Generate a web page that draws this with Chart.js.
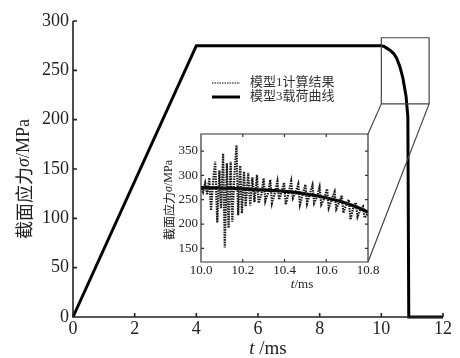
<!DOCTYPE html>
<html>
<head>
<meta charset="utf-8">
<script src="https://cdn.jsdelivr.net/npm/chart.js@4.4.0/dist/chart.umd.min.js"></script>
<style>
  html, body { margin: 0; padding: 0; background: #fff; }
  #wrap { position: relative; width: 460px; height: 358px; }
  #wrap canvas { position: absolute; left: 0; top: 0; }
</style>
</head>
<body>
<div id="wrap">
  <canvas id="mainChart" width="460" height="358"></canvas>
  <canvas id="insetChart" width="460" height="358"></canvas>
</div>
<script>
// model 3 load curve (t in ms, stress in MPa)
const loadT = [0, 4, 10.0, 10.1, 10.2, 10.3, 10.4, 10.5, 10.6, 10.7, 10.8, 10.86, 10.89, 12];
const loadV = [0, 275, 275, 274, 272, 270, 267, 262, 254, 242, 224, 203, 0, 0];

// model 1 computed result (inset only)
const model1T = [
  10.000, 10.010, 10.020, 10.030, 10.040, 10.048, 10.058, 10.068, 10.078, 10.088,
  10.096, 10.106, 10.114, 10.124, 10.132, 10.142, 10.150, 10.160, 10.170, 10.178,
  10.188, 10.196, 10.206, 10.214, 10.226, 10.236, 10.246, 10.256, 10.268, 10.276,
  10.290, 10.300, 10.308, 10.322, 10.332, 10.340, 10.354, 10.366, 10.374, 10.386,
  10.398, 10.406, 10.420, 10.432, 10.440, 10.452, 10.466, 10.474, 10.488, 10.500,
  10.508, 10.520, 10.534, 10.542, 10.556, 10.568, 10.576, 10.590, 10.604, 10.612,
  10.626, 10.640, 10.648, 10.662, 10.674, 10.682, 10.696, 10.708, 10.716, 10.730,
  10.742, 10.750, 10.764, 10.776, 10.784, 10.800
];
const model1V = [
  278, 266, 284, 260, 295, 228, 288, 328, 203, 310,
  232, 345, 152, 325, 192, 328, 205, 300, 362, 218,
  320, 222, 308, 236, 305, 238, 296, 245, 301, 243,
  262, 294, 247, 265, 291, 243, 264, 288, 250, 266,
  285, 240, 265, 288, 253, 264, 282, 240, 262, 281,
  242, 260, 280, 243, 256, 276, 240, 252, 272, 233,
  250, 266, 231, 245, 259, 223, 240, 250, 209, 235,
  244, 215, 230, 236, 213, 222
];

const mainXTicks = { min: 0, max: 12, step: 2 };
const mainYTicks = { min: 0, max: 300, step: 50 };
const insetXTicks = { min: 10.0, max: 10.8, step: 0.2 };
const insetYRange = [122, 385];
const insetYTicks = [150, 200, 250, 300, 350];
const zoomBoxT = [10.0, 11.55];
const zoomBoxV = [216, 283];

const seriesNames = ["模型1计算结果", "模型3载荷曲线"];
const yTitle = ["截面应力", "σ", "/MPa"];
const xTitleMain = ["t", " /ms"];
const xTitleInset = ["t", "/ms"];

const SERIF = '"Liberation Serif", "DejaVu Serif", serif';
const CJK = '"Noto Sans CJK SC", sans-serif';
const INK = "#222";

const pts = (xs, ys) => xs.map((x, i) => ({ x, y: ys[i] }));

function drawRich(ctx, parts, cx, cy, rot) {
  ctx.save();
  ctx.translate(cx, cy);
  ctx.rotate(rot);
  let w = 0;
  parts.forEach(p => { ctx.font = p.font; w += ctx.measureText(p.text).width; });
  let x = -w / 2;
  ctx.textBaseline = "middle";
  ctx.textAlign = "left";
  ctx.fillStyle = INK;
  parts.forEach(p => { ctx.font = p.font; ctx.fillText(p.text, x, 0); x += ctx.measureText(p.text).width; });
  ctx.restore();
}

function yTitleParts(size) {
  return [
    { text: yTitle[0], font: `${size}px ${CJK}` },
    { text: yTitle[1], font: `italic ${size}px ${SERIF}` },
    { text: yTitle[2], font: `${size}px ${SERIF}` }
  ];
}
function xTitleParts(t, size) {
  return [
    { text: t[0], font: `italic ${size}px ${SERIF}` },
    { text: t[1], font: `${size}px ${SERIF}` }
  ];
}

// axes frame + inward ticks
const frame = {
  id: "frame",
  beforeDatasetsDraw(chart, args, o) {
    const ctx = chart.ctx, a = chart.chartArea;
    if (o.fill) {
      ctx.save();
      ctx.fillStyle = "#fff";
      ctx.fillRect(a.left, a.top, a.right - a.left, a.bottom - a.top);
      ctx.restore();
    }
  },
  afterDraw(chart, args, o) {
    const ctx = chart.ctx, a = chart.chartArea, len = o.len;
    const sx = chart.scales.x, sy = chart.scales.y;
    ctx.save();
    ctx.strokeStyle = o.color;
    ctx.lineWidth = o.width;
    ctx.beginPath();
    if (o.box) {
      ctx.rect(a.left, a.top, a.right - a.left, a.bottom - a.top);
    } else {
      ctx.moveTo(a.left, a.top);
      ctx.lineTo(a.left, a.bottom);
      ctx.lineTo(a.right, a.bottom);
    }
    sx.ticks.forEach(t => {
      const px = sx.getPixelForValue(t.value);
      ctx.moveTo(px, a.bottom); ctx.lineTo(px, a.bottom - len);
      if (o.box) { ctx.moveTo(px, a.top); ctx.lineTo(px, a.top + len); }
    });
    sy.ticks.forEach(t => {
      const py = sy.getPixelForValue(t.value);
      ctx.moveTo(a.left, py); ctx.lineTo(a.left + len, py);
      if (o.box) { ctx.moveTo(a.right, py); ctx.lineTo(a.right - len, py); }
    });
    ctx.stroke();
    ctx.restore();
  }
};

const noGrid = { display: false, drawTicks: false };

// main chart
const mainChart = new Chart(document.getElementById("mainChart"), {
  type: "line",
  data: {
    datasets: [{
      label: seriesNames[1],
      data: pts(loadT, loadV),
      borderColor: "#000",
      borderWidth: 3,
      pointRadius: 0,
      tension: 0,
      clip: 4
    }]
  },
  options: {
    responsive: false,
    animation: false,
    layout: { padding: { left: 0, right: 17, top: 21, bottom: 0 } },
    plugins: {
      legend: { display: false },
      tooltip: { enabled: false },
      frame: { color: "#222", width: 1.6, len: 4, box: false }
    },
    scales: {
      x: {
        type: "linear",
        min: mainXTicks.min, max: mainXTicks.max,
        ticks: { stepSize: mainXTicks.step, padding: 1, maxRotation: 0, color: INK, font: { family: SERIF, size: 18 } },
        grid: noGrid,
        border: { display: false },
        afterFit: s => { s.height = 41; }
      },
      y: {
        min: mainYTicks.min, max: mainYTicks.max,
        ticks: { stepSize: mainYTicks.step, padding: 4, color: INK, font: { family: SERIF, size: 18 } },
        grid: noGrid,
        border: { display: false },
        afterFit: s => { s.width = 73; }
      }
    }
  },
  plugins: [frame, {
    id: "mainTitles",
    afterDraw(chart) {
      const ctx = chart.ctx, a = chart.chartArea;
      drawRich(ctx, xTitleParts(xTitleMain, 19), 268, 349, 0);
      drawRich(ctx, yTitleParts(18), 24, (a.top + a.bottom) / 2 + 10, -Math.PI / 2);
    }
  }]
});

// inset chart, same page coordinates as main chart
new Chart(document.getElementById("insetChart"), {
  type: "line",
  data: {
    datasets: [{
      label: seriesNames[0],
      data: pts(model1T, model1V),
      borderColor: "#1a1a1a",
      borderWidth: 2.2,
      borderDash: [1.5, 1],
      pointRadius: 0,
      tension: 0,
      clip: 0
    }, {
      label: seriesNames[1],
      data: pts(loadT, loadV),
      borderColor: "#000",
      borderWidth: 3.2,
      pointRadius: 0,
      tension: 0.3,
      clip: 0
    }]
  },
  options: {
    responsive: false,
    animation: false,
    layout: { padding: { left: 0, right: 92, top: 134, bottom: 0 } },
    plugins: {
      legend: { display: false },
      tooltip: { enabled: false },
      frame: { color: "#333", width: 1.2, len: 3, box: true, fill: true }
    },
    scales: {
      x: {
        type: "linear",
        min: insetXTicks.min, max: insetXTicks.max,
        ticks: { stepSize: insetXTicks.step, padding: 1, maxRotation: 0, color: INK,
          font: { family: SERIF, size: 13 }, callback: v => Number(v).toFixed(1) },
        grid: noGrid,
        border: { display: false },
        afterFit: s => { s.height = 96; }
      },
      y: {
        min: insetYRange[0], max: insetYRange[1],
        afterBuildTicks: s => { s.ticks = insetYTicks.map(v => ({ value: v })); },
        ticks: { padding: 3, color: INK, font: { family: SERIF, size: 13 } },
        grid: noGrid,
        border: { display: false },
        afterFit: s => { s.width = 201; }
      }
    }
  },
  plugins: [frame, {
    id: "insetExtras",
    afterDraw(chart) {
      const ctx = chart.ctx, a = chart.chartArea;
      const mx = mainChart.scales.x, my = mainChart.scales.y;
      // zoom window on main chart + connector lines
      const bx0 = mx.getPixelForValue(zoomBoxT[0]), bx1 = mx.getPixelForValue(zoomBoxT[1]);
      const by0 = my.getPixelForValue(zoomBoxV[1]), by1 = my.getPixelForValue(zoomBoxV[0]);
      ctx.save();
      ctx.strokeStyle = "#444";
      ctx.lineWidth = 1.2;
      ctx.beginPath();
      ctx.rect(bx0, by0, bx1 - bx0, by1 - by0);
      ctx.moveTo(bx0, by1); ctx.lineTo(a.right, a.top);
      ctx.moveTo(bx1, by1); ctx.lineTo(a.right, a.bottom);
      ctx.stroke();
      ctx.restore();

      // titles
      drawRich(ctx, xTitleParts(xTitleInset, 13), 302, 285, 0);
      drawRich(ctx, yTitleParts(12), 169, (a.top + a.bottom) / 2 + 2, -Math.PI / 2);

      // legend
      const ds = chart.data.datasets;
      const lx = 212, ly = [83, 97];
      ds.forEach((d, i) => {
        ctx.save();
        ctx.strokeStyle = i === 0 ? "#555" : "#000";
        ctx.lineWidth = i === 0 ? 1.6 : 3;
        ctx.setLineDash(i === 0 ? [1.5, 1] : []);
        ctx.beginPath();
        ctx.moveTo(lx, ly[i]); ctx.lineTo(lx + 28, ly[i]);
        ctx.stroke();
        ctx.restore();
        ctx.save();
        ctx.fillStyle = "#333";
        ctx.font = `13px ${SERIF}, ${CJK}`;
        ctx.textBaseline = "middle";
        ctx.fillText(d.label, lx + 38, ly[i]);
        ctx.restore();
      });
    }
  }]
});
</script>
</body>
</html>
